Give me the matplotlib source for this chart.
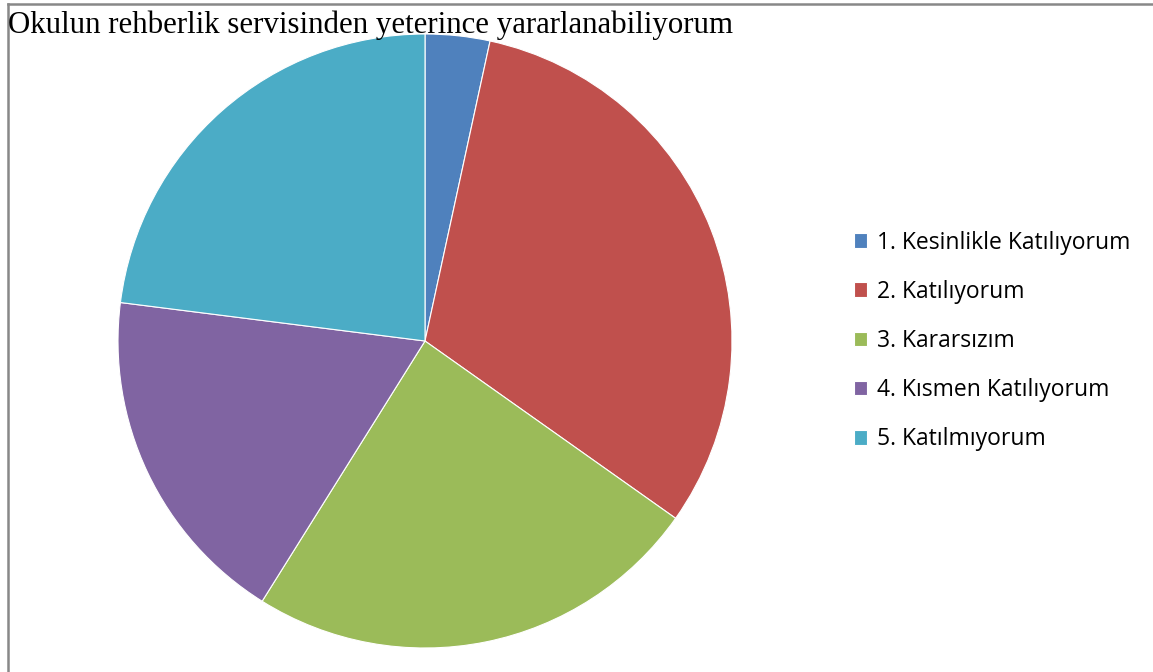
import matplotlib.pyplot as plt
from matplotlib.lines import Line2D

labels = ['1. Kesinlikle Katılıyorum', '2. Katılıyorum', '3. Kararsızım',
          '4. Kısmen Katılıyorum', '5. Katılmıyorum']
values = [3.4, 31.4, 24.1, 18.1, 23.0]
colors = ['#4F81BD', '#C0504D', '#9BBB59', '#8064A2', '#4BACC6']

W, H = 1153, 672
fig = plt.figure(figsize=(W / 100, H / 100), dpi=100)

cx, cy, r = 425, 341, 307
ax = fig.add_axes([(cx - r) / W, (H - cy - r) / H, 2 * r / W, 2 * r / H])
wedges, _ = ax.pie(values, colors=colors, startangle=90, counterclock=False,
                   wedgeprops={'edgecolor': 'white', 'linewidth': 0.8})
ax.set_aspect('equal')
ax.set_xlim(-1, 1)
ax.set_ylim(-1, 1)

fig.text(8 / W, 1 - 11 / H, 'Okulun rehberlik servisinden yeterince yararlanabiliyorum',
         family='Liberation Serif', fontsize=22.2, va='top', ha='left')

fig.legend(wedges, labels, loc='center left', bbox_to_anchor=(833 / W, 1 - 341 / H),
           frameon=False, prop={'family': 'Open Sans', 'size': 16.5},
           handlelength=0.6, handleheight=0.6, handletextpad=0.4, labelspacing=1.1)

# frame edges visible in the original
fig.add_artist(Line2D([7.5 / W, 7.5 / W], [0, 1 - 4 / H], color='#888888', lw=1.8))
fig.add_artist(Line2D([7.5 / W, 1], [1 - 4 / H, 1 - 4 / H], color='#888888', lw=1.8))

fig.savefig('out.png', dpi=100)
